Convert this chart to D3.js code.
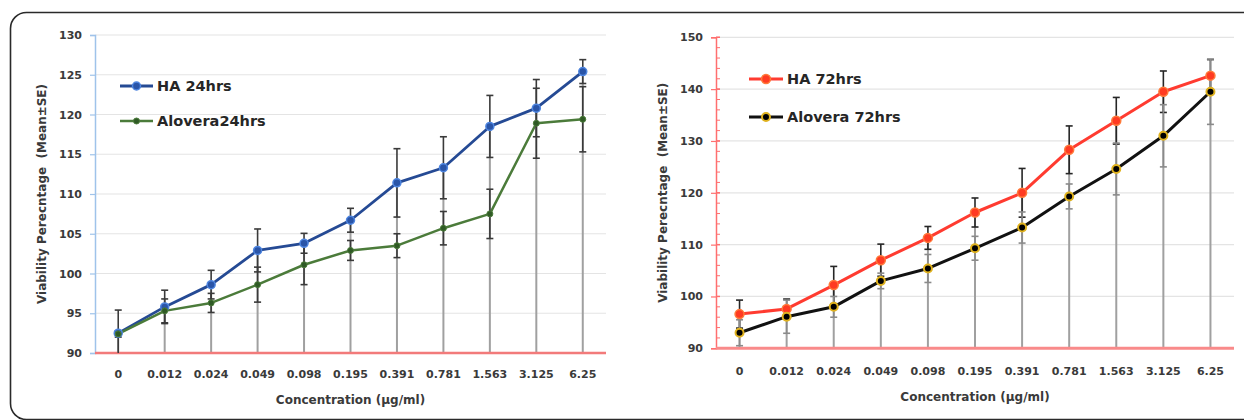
<!DOCTYPE html>
<html>
<head>
<meta charset="utf-8">
<script src="https://cdn.jsdelivr.net/npm/d3@7"></script>
<style>
  html, body { margin: 0; padding: 0; background: #fff; }
  svg { display: block; }
  text { font-family: "DejaVu Sans", sans-serif; }
</style>
</head>
<body>
<svg width="1244" height="420"></svg>
<script>
// concentrations on the x axis (same for both panels)
var categories = ["0", "0.012", "0.024", "0.049", "0.098", "0.195", "0.391", "0.781", "1.563", "3.125", "6.25"];

// 24 hrs panel
var ha24     = [92.5, 95.8, 98.6, 102.9, 103.8, 106.7, 111.4, 113.3, 118.5, 120.8, 125.4];
var ha24Se   = [2.9, 2.1, 1.8, 2.7, 1.25, 1.5, 4.3, 3.9, 3.9, 3.6, 1.5];
var alo24    = [92.4, 95.3, 96.3, 98.6, 101.1, 102.9, 103.5, 105.7, 107.5, 118.9, 119.4];
var alo24Se  = [0.4, 1.5, 1.2, 2.2, 2.5, 1.25, 1.5, 2.1, 3.1, 4.4, 4.1];
var yTicks24 = [90, 95, 100, 105, 110, 115, 120, 125, 130];

// 72 hrs panel
var ha72     = [96.6, 97.6, 102.2, 107.0, 111.3, 116.2, 120.0, 128.3, 133.9, 139.5, 142.6];
var ha72Se   = [2.7, 1.9, 3.6, 3.1, 2.2, 2.8, 4.7, 4.6, 4.5, 4.0, 3.1];
var alo72    = [93.0, 96.1, 98.0, 103.0, 105.4, 109.3, 113.3, 119.3, 124.6, 131.0, 139.5];
var alo72Se  = [2.5, 3.2, 2.0, 1.5, 2.7, 2.3, 3.0, 2.4, 5.0, 6.0, 6.3];
var yTicks72 = [90, 100, 110, 120, 130, 140, 150];
var yMinor72 = d3.range(90, 151, 2);

var svg = d3.select("svg");

svg.append("rect")
    .attr("width", 1244).attr("height", 420)
    .attr("fill", "#fff");

// outer rounded frame, runs off the right and bottom edges
svg.append("rect")
    .attr("x", 10.5).attr("y", 12.5)
    .attr("width", 1300).attr("height", 407)
    .attr("rx", 16)
    .attr("fill", "none")
    .attr("stroke", "#2a2a2a")
    .attr("stroke-width", 1.6);

function drawPanel(p) {
    var g = svg.append("g");

    var x = d3.scalePoint()
        .domain(categories)
        .range([p.left, p.right])
        .padding(0.5);

    var y = d3.scaleLinear()
        .domain(p.domain)
        .range([p.bottom, p.top]);

    // gridlines
    g.append("g")
        .selectAll("line")
        .data(p.ticks.slice(1))
        .join("line")
        .attr("x1", p.left).attr("x2", p.right)
        .attr("y1", function(d) { return y(d); })
        .attr("y2", function(d) { return y(d); })
        .attr("stroke", "#e4e4e4")
        .attr("stroke-width", 1.2);

    // y axis
    var yAxis = d3.axisLeft(y)
        .tickValues(p.ticks)
        .tickSize(5)
        .tickPadding(8)
        .tickFormat(d3.format("d"));
    var ya = g.append("g")
        .attr("transform", "translate(" + p.left + ",0)")
        .call(yAxis);
    ya.select(".domain").attr("stroke", p.yAxisColor).attr("stroke-width", 1.5);
    ya.selectAll(".tick line").attr("stroke", p.yAxisColor).attr("stroke-width", 1.2);
    ya.selectAll(".tick text")
        .attr("fill", "#3a3a3a")
        .style("font-size", "11px")
        .style("font-weight", "bold");

    if (p.minor) {
        g.append("g")
            .selectAll("line")
            .data(p.minor)
            .join("line")
            .attr("x1", p.left).attr("x2", p.left + 4)
            .attr("y1", function(d) { return y(d); })
            .attr("y2", function(d) { return y(d); })
            .attr("stroke", p.yAxisColor)
            .attr("stroke-width", 1);
        g.append("g")
            .selectAll("line")
            .data(p.ticks)
            .join("line")
            .attr("x1", p.left).attr("x2", p.left + 4)
            .attr("y1", function(d) { return y(d); })
            .attr("y2", function(d) { return y(d); })
            .attr("stroke", p.yAxisColor)
            .attr("stroke-width", 1.4);
    }

    // drop lines from the highest point to the category axis
    g.append("g")
        .selectAll("line")
        .data(categories)
        .join("line")
        .attr("x1", function(d) { return x(d); })
        .attr("x2", function(d) { return x(d); })
        .attr("y1", function(d, i) { return y(Math.max(p.series[0].values[i], p.series[1].values[i])); })
        .attr("y2", y(p.domain[0]))
        .attr("stroke", "#a0a0a0")
        .attr("stroke-width", 2);

    // x axis line
    g.append("line")
        .attr("x1", p.left).attr("x2", p.right)
        .attr("y1", y(p.domain[0])).attr("y2", y(p.domain[0]))
        .attr("stroke", p.xAxisColor)
        .attr("stroke-width", p.xAxisWidth);

    // x tick labels
    g.append("g")
        .selectAll("text")
        .data(categories)
        .join("text")
        .attr("x", function(d) { return x(d); })
        .attr("y", p.xLabelY)
        .attr("text-anchor", "middle")
        .attr("fill", "#3a3a3a")
        .style("font-size", "11px")
        .style("font-weight", "bold")
        .text(function(d) { return d; });

    // axis titles
    g.append("text")
        .attr("x", (p.left + p.right) / 2)
        .attr("y", p.xTitleY)
        .attr("text-anchor", "middle")
        .attr("fill", "#3a3a3a")
        .style("font-size", "12px")
        .style("font-weight", "bold")
        .text("Concentration (µg/ml)");

    g.append("text")
        .attr("transform", "translate(" + p.yTitleX + "," + ((p.top + p.bottom) / 2) + ") rotate(-90)")
        .attr("text-anchor", "middle")
        .attr("fill", "#3a3a3a")
        .style("font-size", "12px")
        .style("font-weight", "bold")
        .style("white-space", "pre")
        .text("Viability Perecntage  (Mean±SE)");

    var line = d3.line()
        .x(function(d, i) { return x(categories[i]); })
        .y(function(d) { return y(d); });

    p.series.forEach(function(s) {
        g.append("path")
            .datum(s.values)
            .attr("d", line)
            .attr("fill", "none")
            .attr("stroke", s.color)
            .attr("stroke-width", s.width)
            .attr("stroke-linejoin", "round");
    });

    // error bars
    p.series.forEach(function(s) {
        var eb = g.append("g");
        s.values.forEach(function(v, i) {
            var cx = x(categories[i]);
            var hi = Math.min(v + s.se[i], p.domain[1]);
            var lo = Math.max(v - s.se[i], p.domain[0]);
            eb.append("line")
                .attr("x1", cx).attr("x2", cx)
                .attr("y1", y(hi)).attr("y2", y(lo))
                .attr("stroke", s.errColor)
                .attr("stroke-width", 1.6);
            [v + s.se[i], v - s.se[i]].forEach(function(c) {
                if (c <= p.domain[0]) return;
                eb.append("line")
                    .attr("x1", cx - 3.5).attr("x2", cx + 3.5)
                    .attr("y1", y(c)).attr("y2", y(c))
                    .attr("stroke", s.errColor)
                    .attr("stroke-width", 1.6);
            });
        });
    });

    // markers
    p.series.forEach(function(s) {
        g.append("g")
            .selectAll("circle")
            .data(s.values)
            .join("circle")
            .attr("cx", function(d, i) { return x(categories[i]); })
            .attr("cy", function(d) { return y(d); })
            .attr("r", s.r)
            .attr("fill", s.fill)
            .attr("stroke", s.stroke)
            .attr("stroke-width", s.strokeWidth);
    });

    // legend
    p.series.forEach(function(s, i) {
        var ly = p.legendY[i];
        g.append("line")
            .attr("x1", p.legendX).attr("x2", p.legendX + p.legendLen)
            .attr("y1", ly).attr("y2", ly)
            .attr("stroke", s.color)
            .attr("stroke-width", s.width);
        g.append("circle")
            .attr("cx", p.legendX + p.legendLen / 2).attr("cy", ly)
            .attr("r", s.r)
            .attr("fill", s.fill)
            .attr("stroke", s.stroke)
            .attr("stroke-width", s.strokeWidth);
        g.append("text")
            .attr("x", p.legendX + p.legendLen + 4)
            .attr("y", ly + 5)
            .attr("fill", "#262626")
            .style("font-size", "14.5px")
            .style("font-weight", "bold")
            .text(s.name);
    });
}

drawPanel({
    left: 95, right: 606, top: 35, bottom: 353,
    domain: [90, 130], ticks: yTicks24,
    yAxisColor: "#9fc3ea", xAxisColor: "#f27a7a", xAxisWidth: 2.5,
    xLabelY: 378, xTitleY: 404, yTitleX: 46,
    legendX: 120, legendLen: 33, legendY: [86, 121],
    series: [
        { name: "HA 24hrs", values: ha24, se: ha24Se, color: "#254a94", width: 2.8,
          errColor: "#3a3a3a", r: 4, fill: "#2a55a8", stroke: "#4f86e0", strokeWidth: 1.5 },
        { name: "Alovera24hrs", values: alo24, se: alo24Se, color: "#4b7b3a", width: 2.5,
          errColor: "#3a3a3a", r: 3, fill: "#2f5a25", stroke: "#4b7b3a", strokeWidth: 1 }
    ]
});

drawPanel({
    left: 716, right: 1234, top: 37.3, bottom: 348.3,
    domain: [90, 150], ticks: yTicks72, minor: yMinor72,
    yAxisColor: "#ff6f6f", xAxisColor: "#f98a8a", xAxisWidth: 3,
    xLabelY: 375, xTitleY: 401, yTitleX: 667,
    legendX: 749, legendLen: 34, legendY: [79, 117],
    series: [
        { name: "HA 72hrs", values: ha72, se: ha72Se, color: "#ff3b30", width: 3,
          errColor: "#262626", r: 4.5, fill: "#ff3b22", stroke: "#ff7a3a", strokeWidth: 1.5 },
        { name: "Alovera 72hrs", values: alo72, se: alo72Se, color: "#111", width: 3,
          errColor: "#8a8a8a", r: 4, fill: "#000", stroke: "#e0b21e", strokeWidth: 2 }
    ]
});
</script>
</body>
</html>
